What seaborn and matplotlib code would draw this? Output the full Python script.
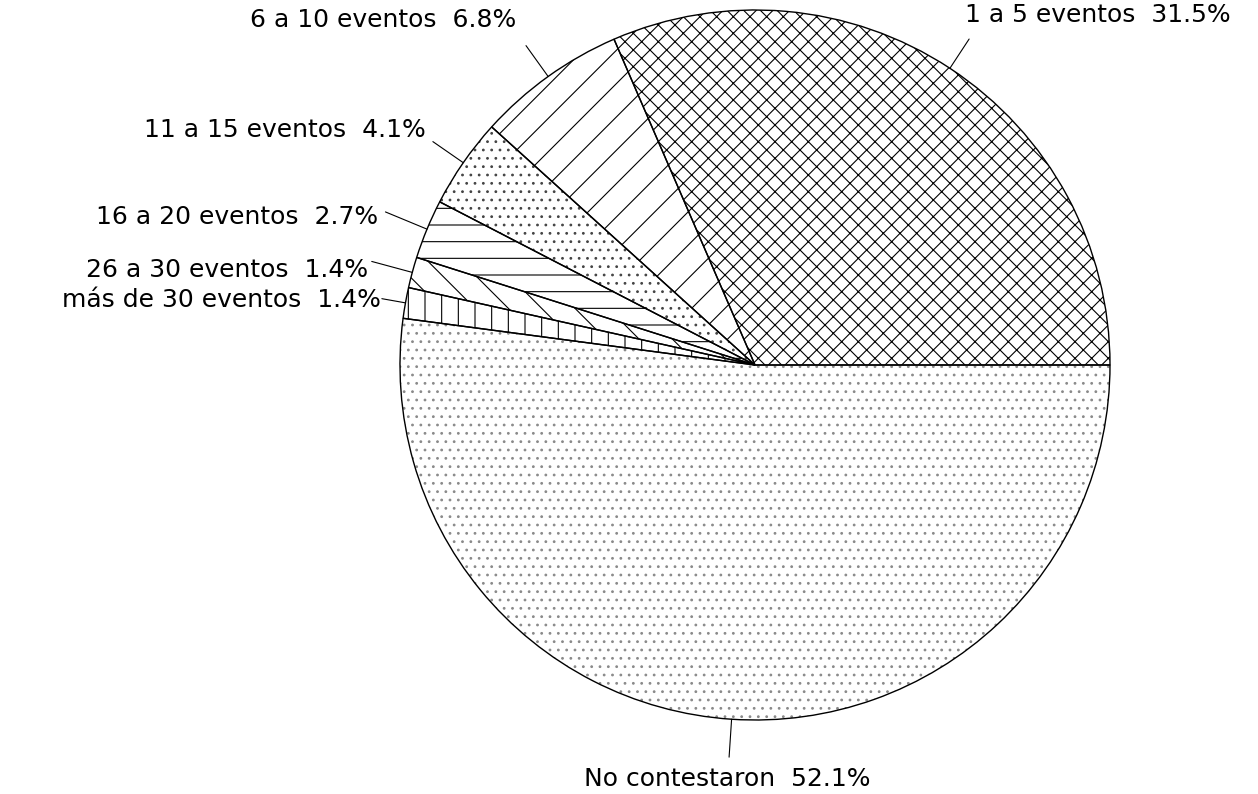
import matplotlib
matplotlib.use("Agg")
import numpy as np
import matplotlib.pyplot as plt
import seaborn as sns

categories = ["1 a 5 eventos", "6 a 10 eventos", "11 a 15 eventos",
              "16 a 20 eventos", "26 a 30 eventos", "más de 30 eventos",
              "No contestaron"]
percentages = [31.5, 6.8, 4.1, 2.7, 1.4, 1.4, 52.1]
hatches = ["xx", "/", "..", "-", "\\", "|", ".."]
hatch_colors = ["black", "black", "#444444", "black", "black", "black", "#8a8a8a"]

W, H = 1258, 794
CENTER = (755, H - 365)
RADIUS = 355

# label layout: text anchor (image px, y from top), alignment, leader length
text_pos = [(965, 15), (516, 20), (426, 130), (378, 217), (368, 270),
            (381, 300), (727, 779)]
text_ha = ["left", "right", "right", "right", "right", "right", "center"]
leader_len = [35, 38, 37, 45, 42, 24, 38]

sns.set_theme(style="white")
plt.rcParams["font.family"] = ["DejaVu Sans"]
plt.rcParams["hatch.linewidth"] = 0.8

fig = plt.figure(figsize=(W / 100, H / 100), dpi=100)
ax = fig.add_axes([0, 0, 1, 1])

# hatched fills (hatch takes the edge colour), then a black outline on top
wedges, _ = ax.pie(percentages, center=CENTER, radius=RADIUS, startangle=0,
                   counterclock=True, colors=["white"] * len(percentages),
                   wedgeprops=dict(linewidth=0))
for w, h, c in zip(wedges, hatches, hatch_colors):
    w.set_hatch(h)
    w.set_edgecolor(c)
ax.pie(percentages, center=CENTER, radius=RADIUS, startangle=0,
       counterclock=True,
       wedgeprops=dict(fill=False, edgecolor="black", linewidth=1.0))

for w, name, pct, (tx, ty), ha, ll in zip(wedges, categories, percentages,
                                         text_pos, text_ha, leader_len):
    mid = np.deg2rad((w.theta1 + w.theta2) / 2)
    ex = CENTER[0] + RADIUS * np.cos(mid)
    ey = CENTER[1] + RADIUS * np.sin(mid)
    lx = ex + ll * np.cos(mid)
    ly = ey + ll * np.sin(mid)
    ax.plot([ex, lx], [ey, ly], color="black", lw=0.8)
    ax.text(tx, H - ty, f"{name}  {pct:.1f}%", ha=ha, va="center",
            fontsize=18, color="black")

ax.set_xlim(0, W)
ax.set_ylim(0, H)
ax.set_aspect("equal")
ax.axis("off")
fig.savefig("out.png", dpi=100, facecolor="white")
